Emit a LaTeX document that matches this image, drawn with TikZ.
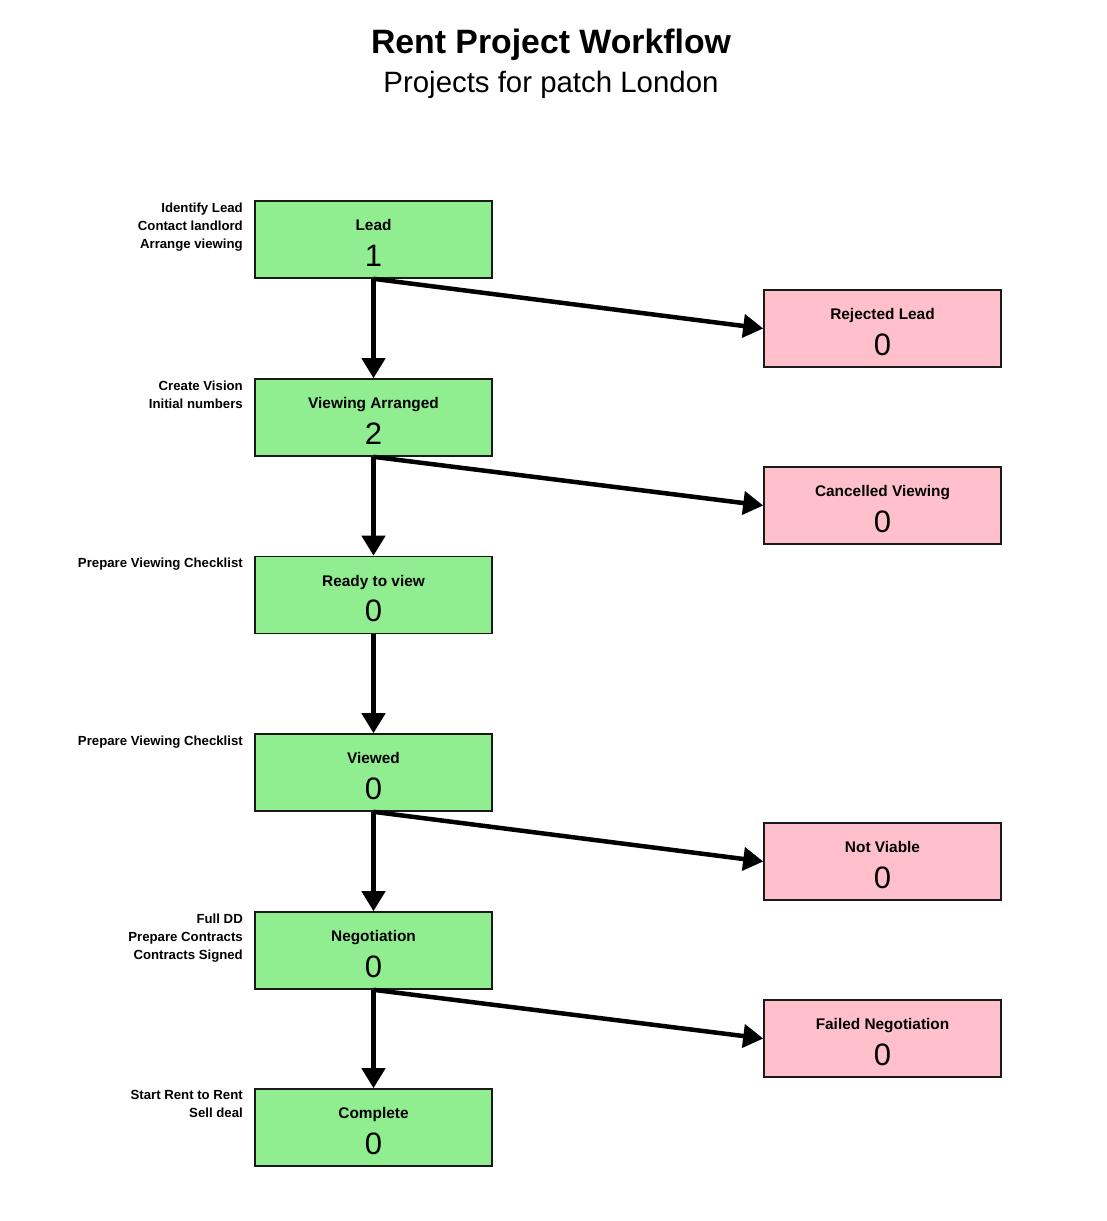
\documentclass[tikz,border=0pt]{standalone}
\usepackage{fontspec}
\setmainfont{Liberation Sans}
\usetikzlibrary{arrows.meta}
\definecolor{stagegreen}{HTML}{90EE90}
\definecolor{stagepink}{HTML}{FFC0CB}
\definecolor{edge}{HTML}{1A1A1A}
\newcommand{\mkstage}[6]{%
  \node[boxbase,fill=#4] (#1) at (#2,#3) {};
  \node[boxlbl] (#1-t) at ([yshift=9pt]#1.center) {#5};
  \node[boxnum] (#1-n) at ([yshift=-26.5pt]#1.center) {#6};
}
\begin{document}
\begin{tikzpicture}[x=1pt,y=-1pt,
  boxbase/.style={draw=edge,line width=1.6pt,minimum width=237pt,minimum height=77pt,inner sep=0pt},
  boxlbl/.style={inner sep=0pt,anchor=base,font=\fontsize{15.4}{18}\selectfont\bfseries},
  boxnum/.style={inner sep=0pt,anchor=base,font=\fontsize{31}{33}\selectfont},
  note/.style={inner sep=0pt,anchor=north east,align=right,font=\fontsize{13.2}{18}\selectfont\bfseries},
  flow/.style={line width=4.5pt,-{Triangle[length=20pt,width=23pt]}}]
\useasboundingbox[fill=white] (0,0) rectangle (1106,1221);
\node[inner sep=0pt,anchor=base,font=\fontsize{33.8}{36}\selectfont\bfseries] (title) at (551,53) {Rent Project Workflow};
\node[inner sep=0pt,anchor=base,font=\fontsize{29.4}{32}\selectfont] (subtitle) at (551,92) {Projects for patch London};
\mkstage{lead}{373.5}{239.5}{stagegreen}{Lead}{1}
\mkstage{view}{373.5}{417.5}{stagegreen}{Viewing Arranged}{2}
\mkstage{ready}{373.5}{595}{stagegreen}{Ready to view}{0}
\mkstage{viewed}{373.5}{772.5}{stagegreen}{Viewed}{0}
\mkstage{nego}{373.5}{950.5}{stagegreen}{Negotiation}{0}
\mkstage{done}{373.5}{1127.5}{stagegreen}{Complete}{0}
\mkstage{rej}{882.5}{328.5}{stagepink}{Rejected Lead}{0}
\mkstage{canc}{882.5}{505.5}{stagepink}{Cancelled Viewing}{0}
\mkstage{nv}{882.5}{861.5}{stagepink}{Not Viable}{0}
\mkstage{fail}{882.5}{1038.5}{stagepink}{Failed Negotiation}{0}
\node[note] (n1) at (243,202.5) {Identify Lead\\Contact landlord\\Arrange viewing};
\node[note] (n2) at (243,380.5) {Create Vision\\Initial numbers};
\node[note] (n3) at (243,558) {Prepare Viewing Checklist};
\node[note] (n4) at (243,735.5) {Prepare Viewing Checklist};
\node[note] (n5) at (243,913.5) {Full DD\\Prepare Contracts\\Contracts Signed};
\node[note] (n6) at (243,1090.5) {Start Rent to Rent\\Sell deal};
\draw[flow] (lead.south) -- (view.north);
\draw[flow] (view.south) -- (ready.north);
\draw[flow] (ready.south) -- (viewed.north);
\draw[flow] (viewed.south) -- (nego.north);
\draw[flow] (nego.south) -- (done.north);
\draw[flow] (lead.south) -- (rej.west);
\draw[flow] (view.south) -- (canc.west);
\draw[flow] (viewed.south) -- (nv.west);
\draw[flow] (nego.south) -- (fail.west);
\end{tikzpicture}
\end{document}
